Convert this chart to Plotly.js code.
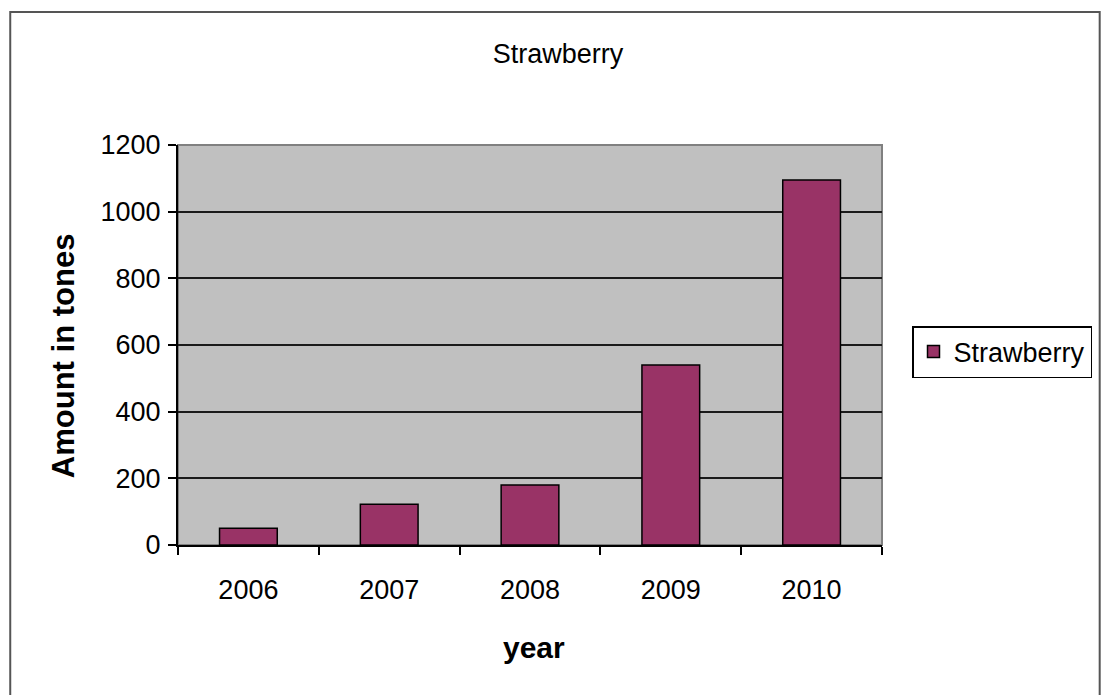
<!DOCTYPE html>
<html>
<head>
<meta charset="utf-8">
<script src="https://cdn.plot.ly/plotly-3.0.1.min.js"></script>
<style>html,body{margin:0;padding:0;background:#fff;}</style>
</head>
<body>
<div id="chart" style="width:1103px;height:695px;"></div>
<script>
const years = ['2006', '2007', '2008', '2009', '2010'];
const strawberry = [50, 122, 180, 540, 1095];
const yTicks = [0, 200, 400, 600, 800, 1000, 1200];

const font = 'Liberation Sans, Arial, sans-serif';
const W = 1103, H = 695;
const L = 178, R = 883, T = 145, B = 545;
const px = v => (v - L) / (R - L);
const py = v => (B - v) / (B - T);

const trace = {
  type: 'bar',
  x: years,
  y: strawberry,
  name: 'Strawberry',
  marker: {color: '#993366', line: {color: '#000000', width: 1.5}},
  hoverinfo: 'x+y'
};

const layout = {
  width: W,
  height: H,
  margin: {l: L, r: W - R, t: T, b: H - B},
  paper_bgcolor: '#ffffff',
  plot_bgcolor: '#c0c0c0',
  bargap: 0.59,
  font: {family: font, color: '#000', size: 27},
  title: {
    text: 'Strawberry',
    font: {family: font, size: 27, color: '#000'},
    x: 558 / W, xanchor: 'center',
    y: 1 - 54 / H, yref: 'container', yanchor: 'middle'
  },
  xaxis: {
    type: 'category',
    showline: true, linecolor: '#000', linewidth: 2,
    ticks: 'outside', tickson: 'boundaries', ticklen: 8, tickwidth: 2, tickcolor: '#000',
    ticklabelstandoff: 20,
    tickfont: {size: 27, family: font},
    showgrid: false,
    automargin: false
  },
  yaxis: {
    range: [0, 1200],
    tickvals: yTicks,
    ticktext: yTicks.map(String),
    showline: true, linecolor: '#000', linewidth: 2,
    ticks: 'outside', ticklen: 8, tickwidth: 2, tickcolor: '#000',
    ticklabelstandoff: 2,
    tickfont: {size: 27, family: font},
    showgrid: true, gridcolor: '#1a1a1a', gridwidth: 2.2,
    zeroline: false,
    automargin: false
  },
  annotations: [
    {text: '<b>Amount in tones</b>', xref: 'paper', yref: 'paper',
     x: px(63), y: py(356), xanchor: 'center', yanchor: 'middle',
     textangle: -90, showarrow: false, font: {size: 31, family: font}},
    {text: '<b>year</b>', xref: 'paper', yref: 'paper',
     x: px(535), y: py(647), xanchor: 'center', yanchor: 'middle',
     showarrow: false, font: {size: 30, family: font}}
  ],
  showlegend: true,
  legend: {
    x: px(912), xanchor: 'left',
    y: py(326), yanchor: 'top',
    bgcolor: '#ffffff', bordercolor: '#000', borderwidth: 1.5,
    font: {size: 27, family: font},
    itemwidth: 30
  },
  shapes: [
    {type: 'rect', xref: 'paper', yref: 'paper',
     x0: 0, x1: 1, y0: 0, y1: 1,
     line: {color: '#808080', width: 2}, layer: 'below'},
    {type: 'rect', xref: 'paper', yref: 'paper',
     x0: px(10), x1: px(1101), y0: py(705), y1: py(12),
     line: {color: '#555555', width: 2}, layer: 'below'}
  ]
};

Plotly.newPlot('chart', [trace], layout, {displayModeBar: false, staticPlot: true});
</script>
</body>
</html>
